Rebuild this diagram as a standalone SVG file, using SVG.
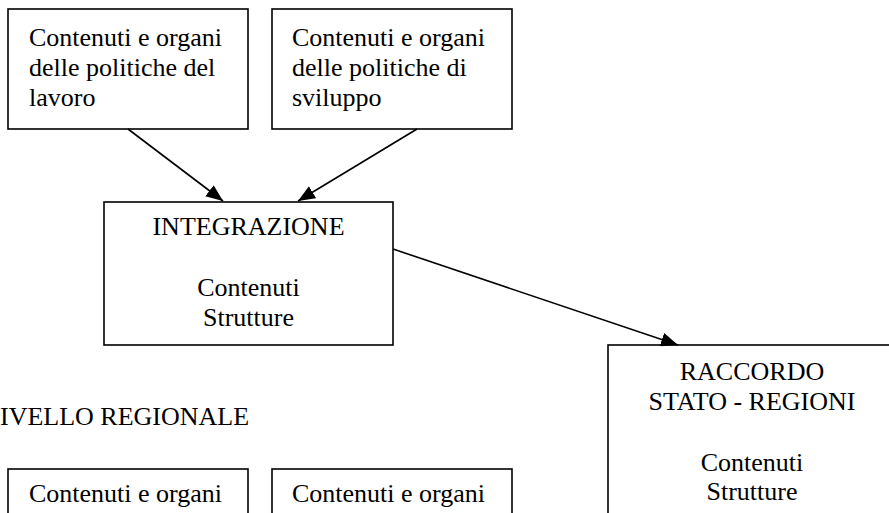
<svg xmlns="http://www.w3.org/2000/svg" width="889" height="513" viewBox="0 0 889 513">
<style>
rect.box{fill:#fff;stroke:#000;stroke-width:1.6}
text{font-family:'Liberation Serif','Times New Roman',serif;font-size:26px;fill:#000}
.c{text-anchor:middle}
.edge{stroke:#000;stroke-width:1.6;fill:none}
</style>
<defs>
<marker id="ah" markerUnits="userSpaceOnUse" viewBox="0 0 17 14" refX="17" refY="7" markerWidth="17" markerHeight="14" orient="auto">
<path d="M0,0 L17,7 L0,14 Z" fill="#000"/>
</marker>
</defs>
<rect width="889" height="513" fill="#fff"/>
<g font-family="Liberation Serif, serif">
<g id="n1">
<rect class="box" x="8" y="9" width="240" height="120"/>
<text x="29" y="46">Contenuti e organi</text>
<text x="29" y="76">delle politiche del</text>
<text x="29" y="106">lavoro</text>
</g>
<g id="n2">
<rect class="box" x="272" y="9" width="240" height="120"/>
<text x="292" y="46">Contenuti e organi</text>
<text x="292" y="76">delle politiche di</text>
<text x="292" y="106">sviluppo</text>
</g>
<g id="n3">
<rect class="box" x="104" y="202" width="289" height="143"/>
<text class="c" x="248.5" y="235">INTEGRAZIONE</text>
<text class="c" x="248.5" y="296">Contenuti</text>
<text class="c" x="248.5" y="326">Strutture</text>
</g>
<g id="n4">
<rect class="box" x="608" y="345" width="289" height="180"/>
<text class="c" x="752" y="380">RACCORDO</text>
<text class="c" x="752" y="410">STATO - REGIONI</text>
<text class="c" x="752" y="471">Contenuti</text>
<text class="c" x="752" y="500">Strutture</text>
</g>
<g id="label">
<text x="0" y="425">IVELLO REGIONALE</text>
</g>
<g id="n5">
<rect class="box" x="8" y="469" width="240" height="60"/>
<text x="29" y="502">Contenuti e organi</text>
</g>
<g id="n6">
<rect class="box" x="272" y="469" width="240" height="60"/>
<text x="292" y="502">Contenuti e organi</text>
</g>
</g>
<g id="edges">
<line class="edge" x1="128" y1="129" x2="223" y2="201" marker-end="url(#ah)"/>
<line class="edge" x1="417" y1="129" x2="298" y2="201" marker-end="url(#ah)"/>
<line class="edge" x1="393" y1="249" x2="678" y2="345" marker-end="url(#ah)"/>
</g>
</svg>
